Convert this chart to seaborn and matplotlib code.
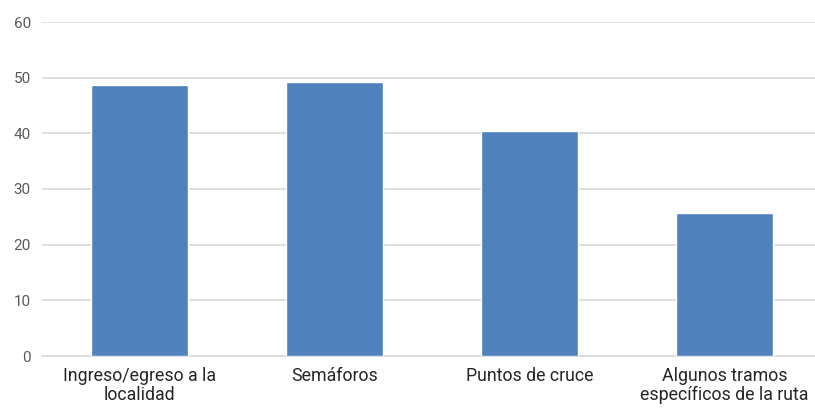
import matplotlib
matplotlib.use("Agg")
import matplotlib.pyplot as plt
import seaborn as sns
import pandas as pd

categories = ["Ingreso/egreso a la\nlocalidad", "Semáforos", "Puntos de cruce",
              "Algunos tramos\nespecíficos de la ruta"]
values = [48.7, 49.2, 40.4, 25.7]
yticks = [0, 10, 20, 30, 40, 50, 60]

sns.set_theme(style="white")
plt.rcParams['font.family'] = ['Roboto', 'DejaVu Sans']

df = pd.DataFrame({"cat": categories, "val": values})

fig = plt.figure(figsize=(8.15, 4.08), dpi=100)
ax = fig.add_axes([42/815, 1 - 356/408, (815-42)/815, (356-22)/408])
sns.barplot(data=df, x="cat", y="val", color="#4F81BD", width=0.5,
            saturation=1, ax=ax, zorder=3)
ax.set_xlim(-0.5, 3.464)
ax.set_ylim(0, 60)
ax.set_yticks(yticks)
ax.set_yticklabels([str(t) for t in yticks], color="#595959", fontsize=11)
ax.tick_params(axis='x', colors="#262626", labelsize=12.8, length=0, pad=8)
ax.tick_params(axis='y', length=0, pad=8)
for lab in ax.get_xticklabels():
    lab.set_linespacing(1.03)
ax.yaxis.grid(True, color="#D9D9D9", linewidth=1.2, zorder=0)
for s in ["top", "right", "left"]:
    ax.spines[s].set_visible(False)
ax.spines["bottom"].set_color("#D9D9D9")
ax.spines["bottom"].set_linewidth(1.2)
ax.set_xlabel("")
ax.set_ylabel("")
fig.savefig("out.png", dpi=100)
